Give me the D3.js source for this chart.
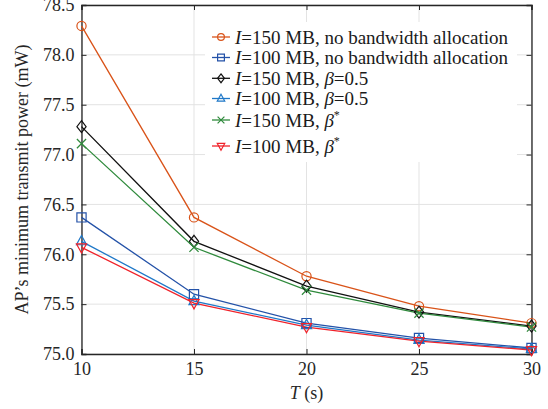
<!DOCTYPE html>
<html>
<head>
<script src="https://cdn.jsdelivr.net/npm/d3@7"></script>
</head>
<body style="margin:0">
<svg id="chart" width="548" height="409"></svg>
<script>
// Transmission period T (s)
const periods = [10, 15, 20, 25, 30];

// AP's minimum transmit power (mW) for each scheme
const i150NoAlloc = [78.29, 76.37, 75.78, 75.48, 75.31];
const i100NoAlloc = [76.37, 75.60, 75.31, 75.16, 75.06];
const i150Half    = [77.28, 76.13, 75.68, 75.42, 75.28];
const i100Half    = [76.13, 75.53, 75.29, 75.14, 75.05];
const i150Opt     = [77.11, 76.07, 75.64, 75.41, 75.27];
const i100Opt     = [76.07, 75.51, 75.27, 75.13, 75.04];

const xTicks = [10, 15, 20, 25, 30];
const yTicks = [75.0, 75.5, 76.0, 76.5, 77.0, 77.5, 78.0, 78.5];

const BETA = "\u03b2";
const series = [
  { values: i150NoAlloc, color: "#D95319", marker: "circle",   size: "150", tail: ", no bandwidth allocation" },
  { values: i100NoAlloc, color: "#2452A8", marker: "square",   size: "100", tail: ", no bandwidth allocation" },
  { values: i150Half,    color: "#111111", marker: "diamond",  size: "150", beta: "=0.5" },
  { values: i100Half,    color: "#1F78C8", marker: "triangle", size: "100", beta: "=0.5" },
  { values: i150Opt,     color: "#2F8A3C", marker: "cross",    size: "150", beta: "*" },
  { values: i100Opt,     color: "#F0222A", marker: "tridown",  size: "100", beta: "*" }
];

const FONT = '"Liberation Serif"';
const svg = d3.select("#chart");
const m = { left: 81.5, right: 531.5, top: 5, bottom: 354 };

const x = d3.scaleLinear().domain([10, 30]).range([m.left, m.right]);
const y = d3.scaleLinear().domain([75, 78.5]).range([m.bottom, m.top]);

const axisColor = "#262626";
const fontSize = 18;
const legendFontSize = 19;

// grid
const grid = svg.append("g");
grid.selectAll(".gx").data(xTicks).join("line")
  .attr("x1", d => x(d)).attr("x2", d => x(d))
  .attr("y1", m.top).attr("y2", m.bottom)
  .attr("stroke", "#e3e3e3").attr("stroke-width", 1);
grid.selectAll(".gy").data(yTicks).join("line")
  .attr("x1", m.left).attr("x2", m.right)
  .attr("y1", d => y(d)).attr("y2", d => y(d))
  .attr("stroke", "#e3e3e3").attr("stroke-width", 1);

// axes with inward ticks
const tickLen = 5;
const xAxis = svg.append("g").attr("transform", `translate(0,${m.bottom})`)
  .call(d3.axisBottom(x).tickValues(xTicks).tickSize(-tickLen).tickPadding(8).tickFormat(d3.format("d")));
const xAxisTop = svg.append("g").attr("transform", `translate(0,${m.top})`)
  .call(d3.axisTop(x).tickValues(xTicks).tickSize(-tickLen).tickFormat(""));
const yAxis = svg.append("g").attr("transform", `translate(${m.left},0)`)
  .call(d3.axisLeft(y).tickValues(yTicks).tickSize(-tickLen).tickPadding(7).tickFormat(d3.format(".1f")));
const yAxisRight = svg.append("g").attr("transform", `translate(${m.right},0)`)
  .call(d3.axisRight(y).tickValues(yTicks).tickSize(-tickLen).tickFormat(""));

[xAxis, xAxisTop, yAxis, yAxisRight].forEach(g => {
  g.attr("font-family", null).attr("font-size", null);
  g.select(".domain").attr("stroke", axisColor).attr("stroke-width", 1.3);
  g.selectAll(".tick line").attr("stroke", axisColor).attr("stroke-width", 1);
  g.selectAll(".tick text").attr("fill", axisColor)
    .attr("font-size", fontSize).style("font-family", FONT);
});
xAxis.selectAll(".tick text").attr("dy", "0.71em");

// marker shapes
function drawMarker(g, type, cx, cy, r, color) {
  if (type === "circle") {
    g.append("circle").attr("cx", cx).attr("cy", cy).attr("r", r)
      .attr("fill", "none").attr("stroke", color).attr("stroke-width", 1.2);
    return;
  }
  let p;
  switch (type) {
    case "square":
      p = `M${cx - r},${cy - r}H${cx + r}V${cy + r}H${cx - r}Z`; break;
    case "diamond":
      p = `M${cx},${cy - r * 1.3}L${cx + r},${cy}L${cx},${cy + r * 1.3}L${cx - r},${cy}Z`; break;
    case "triangle":
      p = `M${cx},${cy - r * 1.25}L${cx + r * 1.1},${cy + r * 0.75}L${cx - r * 1.1},${cy + r * 0.75}Z`; break;
    case "tridown":
      p = `M${cx},${cy + r * 1.25}L${cx + r * 1.1},${cy - r * 0.75}L${cx - r * 1.1},${cy - r * 0.75}Z`; break;
    case "cross":
      p = `M${cx - r},${cy - r}L${cx + r},${cy + r}M${cx - r},${cy + r}L${cx + r},${cy - r}`; break;
  }
  g.append("path").attr("d", p).attr("fill", "none").attr("stroke", color).attr("stroke-width", 1.2);
}

// lines and markers
const line = d3.line().x((d, i) => x(periods[i])).y(d => y(d));
const plot = svg.append("g");
series.forEach(s => {
  plot.append("path").datum(s.values)
    .attr("d", line).attr("fill", "none")
    .attr("stroke", s.color).attr("stroke-width", 1.3);
});
series.forEach(s => {
  s.values.forEach((v, i) => {
    drawMarker(plot.append("g"), s.marker, x(periods[i]), y(v), 4.6, s.color);
  });
});

// legend
const legendRows = [37, 57.5, 78.3, 98.5, 120, 146];
const legend = svg.append("g");
legend.append("rect").attr("x", 205).attr("y", 22).attr("width", 312).attr("height", 140).attr("fill", "#fff");
series.forEach((s, k) => {
  const ly = legendRows[k];
  const g = legend.append("g");
  g.append("line").attr("x1", 212).attr("x2", 230).attr("y1", ly).attr("y2", ly)
    .attr("stroke", s.color).attr("stroke-width", 1.3);
  drawMarker(g, s.marker, 221, ly, 3.4, s.color);
  const t = g.append("text").attr("x", 235).attr("y", ly + 6.5)
    .attr("font-size", legendFontSize).attr("fill", "#1a1a1a").style("font-family", FONT);
  t.append("tspan").attr("font-style", "italic").text("I");
  t.append("tspan").text("=" + s.size + " MB");
  if (s.tail) {
    t.append("tspan").text(s.tail);
  } else {
    t.append("tspan").text(", ");
    t.append("tspan").attr("font-style", "italic").text(BETA);
    if (s.beta === "*") {
      t.append("tspan").attr("font-size", 12).attr("dy", -8).text("*");
    } else {
      t.append("tspan").text(s.beta);
    }
  }
});

// axis labels
const xl = svg.append("text").attr("x", x(20)).attr("y", 399)
  .attr("text-anchor", "middle").attr("font-size", fontSize).attr("fill", axisColor)
  .style("font-family", FONT);
xl.append("tspan").attr("font-style", "italic").text("T");
xl.append("tspan").text(" (s)");

svg.append("text")
  .attr("transform", `translate(28,${(m.top + m.bottom) / 2}) rotate(-90)`)
  .attr("text-anchor", "middle").attr("font-size", fontSize).attr("fill", axisColor)
  .style("font-family", FONT)
  .text("AP\u2019s minimum transmit power (mW)");
</script>
</body>
</html>
